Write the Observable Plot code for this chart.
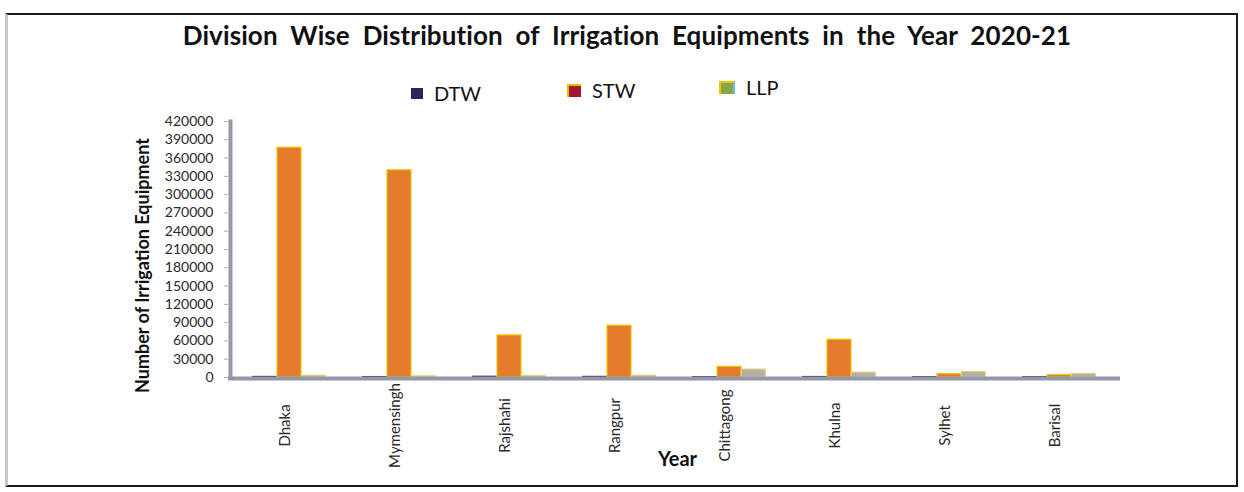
<!DOCTYPE html>
<html>
<head>
<meta charset="utf-8">
<script src="https://cdn.jsdelivr.net/npm/d3@7"></script>
<script src="https://cdn.jsdelivr.net/npm/@observablehq/plot@0.6"></script>
<style>
  html, body { margin: 0; padding: 0; background: #fff; }
  #page { position: relative; width: 1244px; height: 492px; overflow: hidden; font-family: Lato, "Open Sans", sans-serif; color: #111; }
  #frame { position: absolute; left: 5px; top: 13px; width: 1233px; height: 474px; border-top: 2px solid #1a1a1a; border-right: 2px solid #1a1a1a; border-bottom: 2px solid #1a1a1a; border-left: 3px solid #c8c8c8; box-sizing: border-box; }
  #title { position: absolute; left: 0; top: 19px; width: 1254px; text-align: center; font-weight: 700; font-size: 26px; letter-spacing: 0.1px; }
  .leg { position: absolute; font-size: 20px; display: flex; align-items: center; }
  .sw { width: 12px; height: 11px; margin-right: 11px; }
  #chart { position: absolute; left: 0; top: 105px; }
</style>
</head>
<body>
<div id="page">
  <div id="frame"></div>
  <div id="title">Division&nbsp; Wise&nbsp; Distribution&nbsp; of&nbsp; Irrigation&nbsp; Equipments&nbsp; in&nbsp; the&nbsp; Year&nbsp; 2020-21</div>
  <div class="leg" style="left:411px; top:81px;"><span class="sw" style="background:#35205e"></span>DTW</div>
  <div class="leg" style="left:567px; top:78px;"><span class="sw" style="background:#a3162f;border-top:2px solid #f2b400;border-left:2px solid #f2b400;"></span>STW</div>
  <div class="leg" style="left:719px; top:75px;"><span class="sw" style="background:#84a845;border-top:2px solid #f2c200;border-left:2px solid #f2c200;border-right:2px solid #6fb8e0;"></span>LLP</div>
  <div id="chart"></div>
</div>
<script>
const divisions = ["Dhaka", "Mymensingh", "Rajshahi", "Rangpur", "Chittagong", "Khulna", "Sylhet", "Barisal"];
const types = ["DTW", "STW", "LLP"];
const dtw = [900, 700, 1200, 1000, 600, 800, 500, 400];
const stw = [377000, 340000, 69000, 85000, 17500, 62000, 5500, 4000];
const llp = [3000, 2000, 2500, 3000, 13000, 8000, 9000, 6000];
const yTicks = [0, 30000, 60000, 90000, 120000, 150000, 180000, 210000, 240000, 270000, 300000, 330000, 360000, 390000, 420000];
const colors = {DTW: "#35205e", STW: "#e37b2b", LLP: "#b3aea6"};
const strokes = {DTW: "#35205e", STW: "#f4c300", LLP: "#e8d27a"};

const rows = [];
divisions.forEach((d, i) => {
  rows.push({division: d, type: "DTW", value: dtw[i]});
  rows.push({division: d, type: "STW", value: stw[i]});
  rows.push({division: d, type: "LLP", value: llp[i]});
});

const barW = 24.3;
const barMarks = types.map((t, k) => Plot.barY(rows.filter(r => r.type === t), {
  x: "division", y: "value", dx: (k - 1) * barW,
  fill: colors[t], stroke: strokes[t], strokeWidth: 1.2
}));

const chart = Plot.plot({
  width: 1244,
  height: 387,
  marginLeft: 228,
  marginRight: 124,
  marginTop: 16,
  marginBottom: 115,
  style: {fontFamily: "Lato, 'Open Sans', sans-serif", background: "transparent"},
  x: {domain: divisions, paddingInner: 0.78, paddingOuter: 0.434, axis: null},
  y: {domain: [0, 420000], axis: null},
  marks: [
    ...barMarks,
    Plot.ruleY([0], {stroke: "#9297a9", strokeWidth: 4, dy: 1}),
    Plot.frame({anchor: "left", stroke: "#9297a9", strokeWidth: 4, dx: 2}),
    Plot.axisY({ticks: yTicks, tickFormat: d => String(d), tickSize: 4, tickPadding: 11, stroke: "#b9b08a", fontSize: 14, fill: "#2a2a2a", label: null}),
    Plot.text(divisions, {x: d => d, text: d => d, frameAnchor: "bottom", dy: 48, rotate: -90, textAnchor: "middle", fontSize: 15, fill: "#2a2a2a"}),
    Plot.text(["Number of Irrigation Equipment"], {frameAnchor: "left", dx: -85, dy: 16, rotate: -90, textAnchor: "middle", fontSize: 18, fontWeight: 700, fill: "#111"}),
    Plot.text(["Year"], {frameAnchor: "bottom", dx: 3, dy: 88, textAnchor: "middle", fontSize: 20, fontWeight: 700, fill: "#111"})
  ]
});
document.getElementById("chart").appendChild(chart);
</script>
</body>
</html>
